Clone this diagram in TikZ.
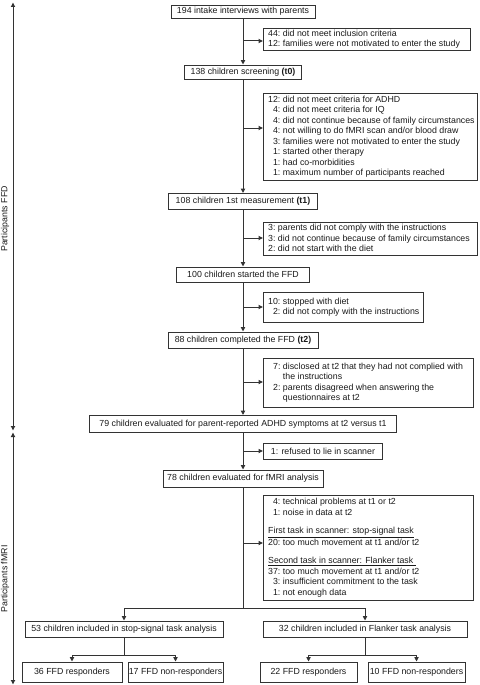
\documentclass[tikz,border=0pt]{standalone}
\usepackage{fontspec}
\setmainfont{Liberation Sans}
\usetikzlibrary{arrows.meta,calc}
\newcommand\slist[1]{\begin{tabular}{@{}r@{\hspace{2.45pt}}l@{}}#1\end{tabular}}
\begin{document}
\begin{tikzpicture}[x=1pt,y=-1pt,
  every node/.style={font=\fontsize{8.8}{10.5}\selectfont, text=black!90},
  box/.style={draw=black!80, line width=0.9pt, inner sep=0pt, align=center},
  sbox/.style={draw=black!80, line width=0.9pt, inner sep=0pt, anchor=north west},
  stext/.style={anchor=west, inner sep=0pt},
  conn/.style={draw=black!80, line width=1pt},
  arr/.style={conn, -{Triangle[length=4.5pt,width=4.2pt]}},
  darr/.style={conn, {Triangle[length=4.5pt,width=4.2pt]}-{Triangle[length=4.5pt,width=4.2pt]}}]
\useasboundingbox (0,0) rectangle (479,685);

% main column
\node[box, minimum width=144pt, minimum height=13pt] (b1) at (243,11.5) {194 intake interviews with parents};
\node[box, minimum width=117pt, minimum height=14pt] (b2) at (243,72) {138 children screening \textbf{(t0)}};
\node[box, minimum width=149pt, minimum height=16pt] (b3) at (243,201.5) {108 children 1st measurement \textbf{(t1)}};
\node[box, minimum width=133pt, minimum height=15pt] (b4) at (243,274.5) {100 children started the FFD};
\node[box, minimum width=150pt, minimum height=16pt] (b5) at (243,340) {88 children completed the FFD \textbf{(t2)}};
\node[box, minimum width=307pt, minimum height=17pt] (b6) at (243,424) {79 children evaluated for parent-reported ADHD symptoms at t2 versus t1};
\node[box, minimum width=160pt, minimum height=17pt] (b7) at (243,478.5) {78 children evaluated for fMRI analysis};
\node[box, minimum width=198pt, minimum height=16pt] (bl) at (124,629) {53 children included in stop-signal task analysis};
\node[box, minimum width=204pt, minimum height=16pt] (br) at (365,629) {32 children included in Flanker task analysis};
\node[box, minimum width=100pt, minimum height=20pt] (ll) at (72,672) {36 FFD responders};
\node[box, minimum width=95pt, minimum height=20pt] (lr) at (175.5,672) {17 FFD non-responders};
\node[box, minimum width=97pt, minimum height=20pt] (rl) at (308.5,672) {22 FFD responders};
\node[box, minimum width=97pt, minimum height=20pt] (rr) at (416.5,672) {10 FFD non-responders};

% side boxes
\node[sbox, minimum width=207pt, minimum height=22pt] (s1) at (263,28) {};
\node[stext] (t1) at ([xshift=5pt]s1.west) {\slist{44: & did not meet inclusion criteria\\ 12: & families were not motivated to enter the study}};
\node[sbox, minimum width=214pt, minimum height=87pt] (s2) at (263,93) {};
\node[stext] (t2) at ([xshift=5pt]s2.west) {\slist{12: & did not meet criteria for ADHD\\
4: & did not meet criteria for IQ\\
4: & did not continue because of family circumstances\\
4: & not willing to do fMRI scan and/or blood draw\\
3: & families were not motivated to enter the study\\
1: & started other therapy\\
1: & had co-morbidities\\
1: & maximum number of participants reached}};
\node[sbox, minimum width=214pt, minimum height=33pt] (s3) at (263,222) {};
\node[stext] (t3) at ([xshift=5pt]s3.west) {\slist{3: & parents did not comply with the instructions\\
3: & did not continue because of family circumstances\\
2: & did not start with the diet}};
\node[sbox, minimum width=160pt, minimum height=30pt] (s4) at (263,292) {};
\node[stext] (t4) at ([xshift=5pt]s4.west) {\slist{10: & stopped with diet\\
2: & did not comply with the instructions}};
\node[sbox, minimum width=210pt, minimum height=49pt] (s5) at (263,358) {};
\node[stext] (t5) at ([xshift=10pt]s5.west) {\slist{7: & disclosed at t2 that they had not complied with\\
 & the instructions\\
2: & parents disagreed when answering the\\
 & questionnaires at t2}};
\node[sbox, minimum width=119pt, minimum height=16pt] (s6) at (263,443) {};
\node[inner sep=0pt] (t6) at (s6.center) {1: refused to lie in scanner};
\node[sbox, minimum width=210pt, minimum height=105pt] (s7) at (263,495) {};
\node[stext] (t7) at ([xshift=5pt]s7.west) {\slist{4: & technical problems at t1 or t2\\
1: & noise in data at t2\\[8pt]
\multicolumn{2}{@{}l@{}}{\underline{First task in scanner: stop-signal task}}\\
20: & too much movement at t1 and/or t2\\[8pt]
\multicolumn{2}{@{}l@{}}{\underline{Second task in scanner: Flanker task\ }}\\
37: & too much movement at t1 and/or t2\\
3: & insufficient commitment to the task\\
1: & not enough data}};

% main vertical connectors
\draw[arr] (b1.south) -- (b2.north);
\draw[arr] (b2.south) -- (b3.north);
\draw[arr] (b3.south) -- (b4.north);
\draw[arr] (b4.south) -- (b5.north);
\draw[arr] (b5.south) -- (b6.north);
\draw[arr] (b6.south) -- (b7.north);

% side branches
\coordinate (j1) at (243,41);
\coordinate (j2) at (243,128);
\coordinate (j3) at (243,238);
\coordinate (j4) at (243,307);
\coordinate (j5) at (243,382);
\coordinate (j6) at (243,451);
\coordinate (j7) at (243,543);
\draw[arr] (j1) -- (j1 -| s1.west);
\draw[arr] (j2) -- (j2 -| s2.west);
\draw[arr] (j3) -- (j3 -| s3.west);
\draw[arr] (j4) -- (j4 -| s4.west);
\draw[arr] (j5) -- (j5 -| s5.west);
\draw[arr] (j6) -- (j6 -| s6.west);
\draw[arr] (j7) -- (j7 -| s7.west);

% split to analyses
\coordinate (sp) at (243,608);
\draw[conn] (b7.south) -- (sp);
\draw[arr] (sp) -| (bl.north);
\draw[arr] (sp) -| (br.north);
\coordinate (spl) at (124,655);
\draw[conn] (bl.south) -- (spl);
\draw[arr] (spl) -| (ll.north);
\draw[arr] (spl) -| (lr.north);
\coordinate (spr) at (365,655);
\draw[conn] (br.south) -- (spr);
\draw[arr] (spr) -| (rl.north);
\draw[arr] (spr) -| (rr.north);

% left axis
\coordinate (fa) at (13,2.5);
\coordinate (fb) at (13,430.5);
\coordinate (ma) at (13,432.5);
\coordinate (mb) at (13,684.5);
\draw[darr] (fb) -- (fa);
\draw[darr] (ma) -- (mb);
\node[rotate=90, inner sep=0pt] (lf) at (5,219) {Participants FFD};
\node[rotate=90, inner sep=0pt] (lm) at (5,579) {Participants fMRI};
\end{tikzpicture}
\end{document}
